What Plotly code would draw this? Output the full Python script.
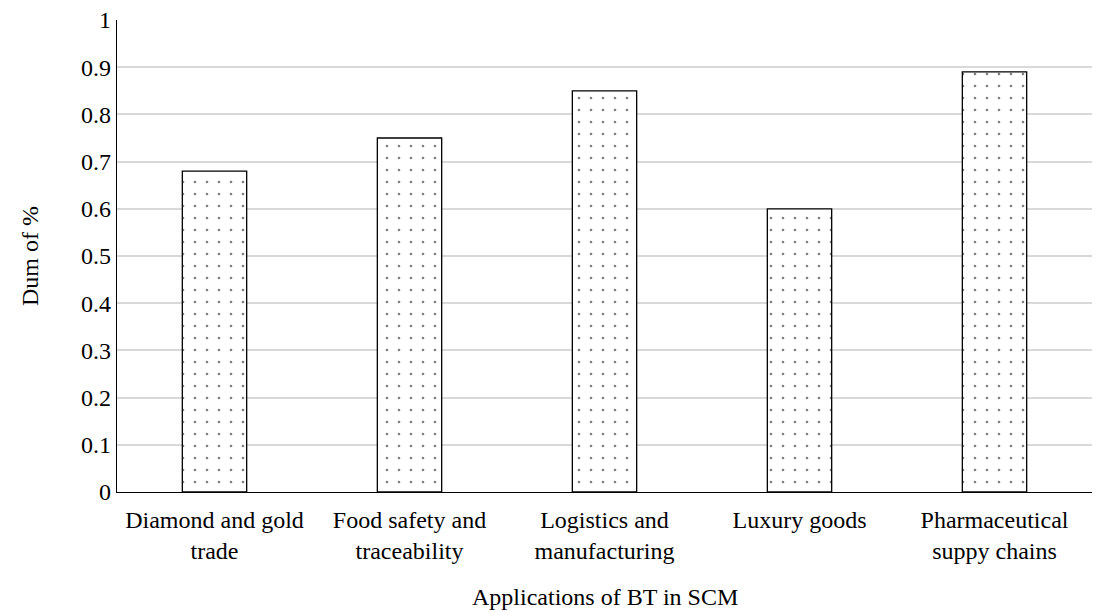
import plotly.graph_objects as go

categories = ["Diamond and gold<br>trade", "Food safety and<br>traceability",
              "Logistics and<br>manufacturing", "Luxury goods",
              "Pharmaceutical<br>suppy chains"]
values = [0.68, 0.75, 0.85, 0.60, 0.89]
y_ticks = [0, 0.1, 0.2, 0.3, 0.4, 0.5, 0.6, 0.7, 0.8, 0.9, 1]
y_tick_labels = ["0", "0.1", "0.2", "0.3", "0.4", "0.5", "0.6", "0.7", "0.8", "0.9", "1"]
x_title = "Applications of BT in SCM"
y_title = "Dum of %"

font_family = "Liberation Serif"
font_size = 24

fig = go.Figure(go.Bar(
    x=categories,
    y=values,
    width=0.33,
    marker=dict(
        color="white",
        line=dict(color="black", width=1.3),
        pattern=dict(shape=".", fgcolor="black", bgcolor="white", size=12, solidity=0.04),
    ),
))

fig.update_layout(
    width=1112, height=612,
    margin=dict(l=117, r=20, t=20, b=120),
    paper_bgcolor="white", plot_bgcolor="white",
    font=dict(family=font_family, size=font_size, color="black"),
    showlegend=False,
    annotations=[
        dict(text=x_title, xref="paper", yref="paper", x=0.5, y=-0.222,
             xanchor="center", yanchor="middle", showarrow=False,
             font=dict(size=font_size)),
        dict(text=y_title, xref="paper", yref="paper", x=-0.0892, y=0.5,
             xanchor="center", yanchor="middle", showarrow=False, textangle=-90,
             font=dict(size=font_size)),
    ],
)
fig.update_xaxes(
    showline=True, linecolor="black", linewidth=1.3,
    ticks="", showgrid=False, ticklabelstandoff=6, automargin=False,
    tickfont=dict(size=font_size),
)
fig.update_yaxes(
    range=[0, 1], tickvals=y_ticks, ticktext=y_tick_labels,
    showline=True, linecolor="black", linewidth=1.3,
    showgrid=True, gridcolor="#d9d9d9", gridwidth=1.5,
    zeroline=False, ticks="", automargin=False,
    tickfont=dict(size=font_size),
)

fig.write_html("out.html")
